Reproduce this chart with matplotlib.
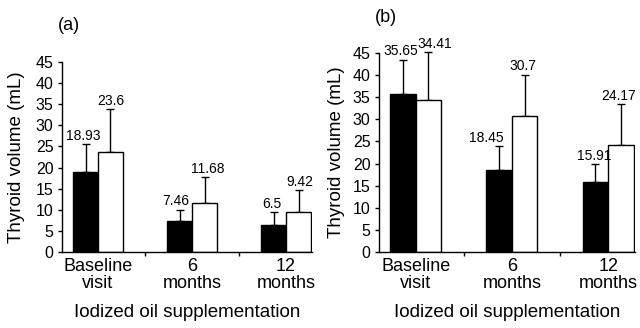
import matplotlib
matplotlib.use("Agg")
import matplotlib.pyplot as plt
import numpy as np

plt.rcParams["font.family"] = ["Liberation Sans", "DejaVu Sans"]

CATS = ["Baseline\nvisit", "6\nmonths", "12\nmonths"]
# panel (a)
A_BLACK = [18.93, 7.46, 6.5]
A_WHITE = [23.6, 11.68, 9.42]
A_BLACK_ERR = [6.6, 2.6, 2.9]
A_WHITE_ERR = [10.3, 6.1, 5.3]
# panel (b)
B_BLACK = [35.65, 18.45, 15.91]
B_WHITE = [34.41, 30.7, 24.17]
B_BLACK_ERR = [7.85, 5.55, 4.0]
B_WHITE_ERR = [10.8, 9.4, 9.2]

W = 0.265
# horizontal nudges of the value labels (points), black then white
A_NUDGE = ([-2, -2.5, -1], [0, 2, 1])
B_NUDGE = ([-1.5, -9, -1], [4.5, -1, -1.5])


def panel(ax, black, white, berr, werr, nudge, tag, tag_xy, ylab_x):
    x = np.arange(len(CATS))
    for off, vals, errs, fc, nd in ((-W / 2, black, berr, "black", nudge[0]),
                                    (W / 2, white, werr, "white", nudge[1])):
        ax.bar(x + off, vals, W, color=fc, edgecolor="black", lw=1.0,
               zorder=2)
        ax.errorbar(x + off, vals, yerr=[np.zeros(len(vals)), errs],
                    fmt="none", ecolor="black", elinewidth=1.0, capsize=3,
                    capthick=1.0, zorder=1, clip_on=False)
        for xi, v, e, dx in zip(x + off, vals, errs, nd):
            ax.annotate(f"{v:g}", (xi, v + e), xytext=(dx, 0.8),
                        textcoords="offset points", ha="center",
                        va="bottom", fontsize=10, annotation_clip=False)
    ax.set_ylim(0, 45)
    ax.set_yticks(range(0, 46, 5))
    ax.set_xlim(-0.383, 2.278)
    ax.set_xticks(x)
    ax.set_xticklabels(CATS, fontsize=13, linespacing=1.0)
    ax.set_xticks([0.5, 1.5], minor=True)
    ax.tick_params(axis="x", which="major", length=0, pad=4)
    ax.tick_params(axis="x", which="minor", length=3, width=1.0,
                   direction="out")
    ax.tick_params(axis="y", labelsize=11.5, length=3, width=1.0, pad=3)
    ax.set_ylabel("Thyroid volume (mL)", fontsize=13.5)
    ax.yaxis.set_label_coords(ylab_x, 0.5)
    ax.set_xlabel("Iodized oil supplementation", fontsize=13.5,
                  labelpad=9)
    for sp in ("top", "right"):
        ax.spines[sp].set_visible(False)
    for sp in ("left", "bottom"):
        ax.spines[sp].set_linewidth(1.0)
    ax.figure.text(tag_xy[0], tag_xy[1], tag, fontsize=13, ha="left",
                   va="center")


fig = plt.figure(figsize=(6.4, 3.28), dpi=100)
ax1 = fig.add_axes([0.0969, 0.2317, 0.391, 0.579])
ax2 = fig.add_axes([0.592, 0.2317, 0.400, 0.607])
panel(ax1, A_BLACK, A_WHITE, A_BLACK_ERR, A_WHITE_ERR, A_NUDGE, "(a)",
      (0.09, 1 - 25 / 328), -0.147)
panel(ax2, B_BLACK, B_WHITE, B_BLACK_ERR, B_WHITE_ERR, B_NUDGE, "(b)",
      (0.586, 1 - 17 / 328), -0.132)

fig.savefig("out.png", dpi=100)
